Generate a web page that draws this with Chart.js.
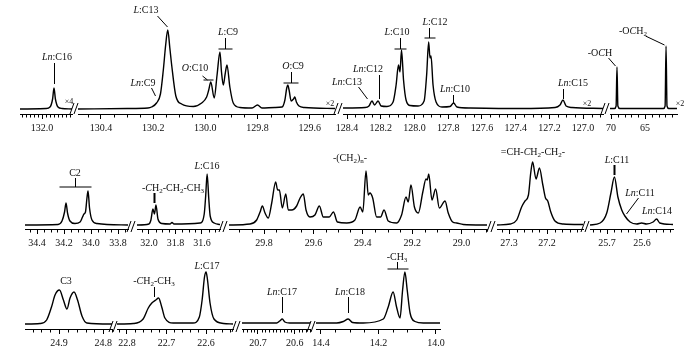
<!DOCTYPE html>
<html><head><meta charset="utf-8">
<script src="https://cdn.jsdelivr.net/npm/chart.js@4"></script>
<style>
html,body{margin:0;padding:0;background:#fff;}
#wrap{position:relative;width:700px;height:355px;overflow:hidden;background:#fff;}
#wrap canvas{position:absolute;}
.lb{position:absolute;transform:translate(-50%,-50%);font-family:"Liberation Serif","Times New Roman",serif;font-size:10px;color:#111;white-space:nowrap;line-height:1;z-index:6;}
.lb sub{font-size:7px;vertical-align:-2px;line-height:0;}
.sm{font-size:8px;}
#ov{position:absolute;left:0;top:0;z-index:5;}
</style></head><body><div id="wrap"><svg id="ov" width="700" height="355"></svg></div>
<script>
// ---------- DATA (chemical shift in ppm, relative intensity) ----------
// Row 1
const A_ppm = [132.11, 131.98, 131.96, 131.947, 131.94, 131.933, 131.92, 131.9, 131.85];
const A_int = [1, 1.5, 3, 11, 22, 11, 3, 1.5, 1];
const A_ticks = ['132.0'];

const B_ppm = [130.488, 130.3, 130.22, 130.206, 130.187, 130.172, 130.161, 130.152, 130.144, 130.136, 130.129, 130.113, 130.091, 130.046, 130.014, 129.995, 129.987, 129.979, 129.966, 129.955, 129.944, 129.938, 129.931, 129.924, 129.917, 129.906, 129.893, 129.867, 129.821, 129.8, 129.783, 129.733, 129.706, 129.695, 129.688, 129.684, 129.679, 129.671, 129.662, 129.657, 129.651, 129.641, 129.62, 129.503];
const B_int = [1, 1.5, 2, 3, 7, 16, 40, 65, 80, 62, 45, 14, 6, 3.5, 7, 13, 20, 28, 12, 35, 58, 38, 25, 36, 45, 23, 7, 2.5, 2, 5, 2, 2.5, 3, 10, 22, 25, 20, 9, 11, 13, 8, 4, 2.5, 1.5];
const B_ticks = ['130.4', '130.2', '130.0', '129.8', '129.6'];

const C_ppm = [128.424, 128.293, 128.27, 128.252, 128.237, 128.216, 128.198, 128.163, 128.127, 128.109, 128.095, 128.086, 128.077, 128.065, 128.05, 128.026, 127.979, 127.943, 127.928, 127.916, 127.908, 127.902, 127.89, 127.872, 127.837, 127.789, 127.768, 127.748, 127.67, 127.374, 127.166, 127.137, 127.119, 127.101, 127.066, 126.882];
const C_int = [2, 2.5, 4, 9, 5, 9, 4, 3.5, 8, 25, 45, 38, 60, 30, 10, 4.5, 4, 9, 35, 68, 52, 54, 25, 8, 3, 3.5, 7, 3, 2, 1.5, 2.5, 5, 10, 4, 2.5, 1.5];
const C_ticks = ['128.4', '128.2', '128.0', '127.8', '127.6', '127.4', '127.2', '127.0'];

const D_ppm = [70.147, 69.5, 69.25, 69.12, 68.99, 68.7, 62.3, 62.05, 61.91, 61.77, 61.5, 60.3];
const D_int = [1.5, 1.5, 4, 43, 4, 1.5, 1.5, 4, 64, 4, 1.5, 1.5];
const D_ticks = ['70', '65'];

// Row 2
const E_ppm = [34.489, 34.244, 34.215, 34.196, 34.185, 34.174, 34.156, 34.119, 34.081, 34.063, 34.052, 34.041, 34.03, 34.022, 34.011, 33.993, 33.956, 33.726];
const E_int = [1, 1.5, 5, 14, 23, 13, 5, 2.5, 4, 9, 12, 14, 28, 35, 18, 6, 2.5, 1];
const E_ticks = ['34.4', '34.2', '34.0', '33.8'];

const F_ppm = [32.09, 32.0, 31.985, 31.97, 31.958, 31.947, 31.932, 31.902, 31.841, 31.826, 31.811, 31.614, 31.583, 31.572, 31.561, 31.549, 31.538, 31.508, 31.464];
const F_int = [1, 2, 6, 17, 12, 21, 7, 2.5, 2, 3.5, 2, 3, 12, 30, 52, 28, 10, 3, 1.5];
const F_ticks = ['32.0', '31.8', '31.6'];

const G_ppm = [29.942, 29.857, 29.830, 29.816, 29.807, 29.796, 29.783, 29.769, 29.753, 29.745, 29.738, 29.726, 29.712, 29.702, 29.688, 29.668, 29.654, 29.641, 29.630, 29.614, 29.594, 29.576, 29.560, 29.536, 29.519, 29.503, 29.465, 29.432, 29.411, 29.400, 29.387, 29.378, 29.371, 29.360, 29.344, 29.328, 29.314, 29.297, 29.263, 29.243, 29.225, 29.216, 29.205, 29.191, 29.175, 29.157, 29.144, 29.139, 29.133, 29.120, 29.105, 29.090, 29.067, 29.054, 29.036, 29.020, 28.993, 28.897];
const G_int = [1, 2, 6, 14, 20, 13, 8, 23, 44, 36, 36, 18, 32, 16, 16, 20, 28, 32, 16, 9, 11, 20, 9, 9, 14, 4, 3, 6, 19, 14, 55, 31, 33, 28, 9, 9, 16, 5, 3, 11, 29, 24, 41, 19, 13, 34, 47, 46, 52, 26, 37, 18, 25, 13, 4, 3, 1.5, 1];
const G_ticks = ['29.8', '29.6', '29.4', '29.2', '29.0'];

const H_ppm = [27.332, 27.297, 27.280, 27.267, 27.258, 27.249, 27.243, 27.238, 27.229, 27.220, 27.211, 27.204, 27.198, 27.190, 27.179, 27.157, 27.105];
const H_int = [1, 2, 6, 19, 25, 31, 53, 64, 47, 58, 41, 28, 25, 14, 5, 2, 1.5];
const H_ticks = ['27.3', '27.2'];

const I_ppm = [25.749, 25.720, 25.701, 25.689, 25.679, 25.669, 25.658, 25.649, 25.634, 25.615, 25.601, 25.587, 25.568, 25.558, 25.549, 25.511];
const I_int = [1, 3, 13, 33, 49, 29, 16, 10, 4, 2, 3, 2, 4, 7, 3, 1.5];
const I_ticks = ['25.7', '25.6'];

// Row 3
const J_ppm = [24.977, 24.943, 24.928, 24.917, 24.909, 24.899, 24.890, 24.882, 24.875, 24.866, 24.858, 24.848, 24.837, 24.78];
const J_int = [1, 1.5, 5, 18, 30, 35, 25, 16, 27, 33, 25, 9, 2, 1];
const J_ticks = ['24.9', '24.8'];

const K_ppm = [22.825, 22.784, 22.759, 22.746, 22.737, 22.727, 22.720, 22.712, 22.704, 22.683, 22.633, 22.617, 22.610, 22.604, 22.600, 22.597, 22.590, 22.580, 22.556, 22.532];
const K_int = [1, 1.5, 6, 17, 22, 25, 27, 18, 7, 2, 2, 8, 25, 48, 53, 47, 22, 6, 1.5, 1];
const K_ticks = ['22.8', '22.7', '22.6'];

const L_ppm = [20.743, 20.649, 20.641, 20.634, 20.627, 20.614, 20.559];
const L_int = [2, 2, 4, 6, 3, 2, 2];
const L_ticks = ['20.7', '20.6'];

const M_ppm = [14.417, 14.345, 14.322, 14.305, 14.290, 14.253, 14.183, 14.166, 14.149, 14.137, 14.125, 14.116, 14.108, 14.100, 14.090, 14.073, 14.044, 13.986];
const M_int = [2, 2, 3.5, 6, 2.5, 2, 6, 18, 33, 18, 7, 35, 53, 35, 12, 3.5, 2, 2];
const M_ticks = ['14.4', '14.2', '14.0'];

// ---------- LAYOUT ----------
const ROWS = [
  {top: 10,  axis: 114, ymin: -4, ymax: 100},
  {top: 129, axis: 229, ymin: -3, ymax: 97},
  {top: 245, axis: 329, ymin: -4, ymax: 80}
];
const AXIS_H = 24;
const SEGS = [
  {row:0, x0:20,  x1:72,  min:131.85,  max:132.11,  ppm:A_ppm, val:A_int, ticks:A_ticks, minor:0.02},
  {row:0, x0:78,  x1:335, min:129.503, max:130.488, ppm:B_ppm, val:B_int, ticks:B_ticks, minor:0.05},
  {row:0, x0:343, x1:603, min:126.882, max:128.424, ppm:C_ppm, val:C_int, ticks:C_ticks, minor:0.05},
  {row:0, x0:610, x1:677, min:60.3,    max:70.147,  ppm:D_ppm, val:D_int, ticks:D_ticks, minor:1},
  {row:1, x0:25,  x1:128, min:33.726,  max:34.489,  ppm:E_ppm, val:E_int, ticks:E_ticks, minor:0.05},
  {row:1, x0:137, x1:220, min:31.464,  max:32.09,   ppm:F_ppm, val:F_int, ticks:F_ticks, minor:0.05},
  {row:1, x0:229, x1:487, min:28.897,  max:29.942,  ppm:G_ppm, val:G_int, ticks:G_ticks, minor:0.05},
  {row:1, x0:497, x1:583, min:27.105,  max:27.332,  ppm:H_ppm, val:H_int, ticks:H_ticks, minor:0.02},
  {row:1, x0:590, x1:673, min:25.511,  max:25.749,  ppm:I_ppm, val:I_int, ticks:I_ticks, minor:0.02},
  {row:2, x0:25,  x1:112, min:24.78,   max:24.977,  ppm:J_ppm, val:J_int, ticks:J_ticks, minor:0.02},
  {row:2, x0:117, x1:233, min:22.532,  max:22.825,  ppm:K_ppm, val:K_int, ticks:K_ticks, minor:0.02},
  {row:2, x0:242, x1:310, min:20.559,  max:20.743,  ppm:L_ppm, val:L_int, ticks:L_ticks, minor:0.01},
  {row:2, x0:316, x1:440, min:13.986,  max:14.417,  ppm:M_ppm, val:M_int, ticks:M_ticks, minor:0.05}
];

const wrap = document.getElementById('wrap');
const FONT = '"Liberation Serif", "Times New Roman", serif';

function makeSeg(s){
  const row = ROWS[s.row];
  const P = 18;
  const w = (s.x1 - s.x0) + 2*P;
  const h = (row.axis - row.top) + AXIS_H;
  const c = document.createElement('canvas');
  c.width = w; c.height = h;
  c.style.left = (s.x0 - P) + 'px';
  c.style.top = row.top + 'px';
  c.style.width = w + 'px'; c.style.height = h + 'px';
  wrap.appendChild(c);
  const majors = s.ticks.map(parseFloat);
  const minorPlugin = {
    id: 'minorTicks',
    afterDraw(chart){
      const sc = chart.scales.x, ctx = chart.ctx;
      const y0 = Math.round(sc.top) + 0.5;
      ctx.save();
      ctx.strokeStyle = '#000'; ctx.lineWidth = 1;
      const n0 = Math.ceil(s.min / s.minor - 1e-6), n1 = Math.floor(s.max / s.minor + 1e-6);
      for (let n = n0; n <= n1; n++){
        const v = n * s.minor;
        if (majors.some(m => Math.abs(m - v) < s.minor / 10)) continue;
        const px = Math.round(sc.getPixelForValue(v)) + 0.5;
        ctx.beginPath(); ctx.moveTo(px, y0); ctx.lineTo(px, y0 + 3); ctx.stroke();
      }
      ctx.restore();
    }
  };
  new Chart(c, {
    type: 'line',
    data: {datasets: [{
      data: s.ppm.map((p, i) => ({x: p, y: s.val[i]})),
      borderColor: '#000', borderWidth: 1.4, pointRadius: 0,
      cubicInterpolationMode: 'monotone', fill: false
    }]},
    options: {
      responsive: false, animation: false, devicePixelRatio: 1,
      layout: {padding: {left: P, right: P, top: 0, bottom: 0}},
      plugins: {legend: {display: false}, tooltip: {enabled: false}},
      scales: {
        x: {
          type: 'linear', reverse: true, min: s.min, max: s.max,
          afterBuildTicks: sc => { sc.ticks = majors.map(v => ({value: v})); },
          afterFit: sc => { sc.height = AXIS_H; },
          ticks: {autoSkip: false, maxRotation: 0, padding: 3, color: '#111',
                  font: {family: FONT, size: 10},
                  callback: (v, i) => s.ticks[i]},
          grid: {display: true, drawOnChartArea: false, drawTicks: true, tickLength: 5, color: '#000', lineWidth: 1},
          border: {display: true, color: '#000', width: 1}
        },
        y: {display: false, min: row.ymin, max: row.ymax}
      }
    },
    plugins: [minorPlugin]
  });
}
SEGS.forEach(makeSeg);

// ---------- ANNOTATIONS ----------
const LABELS = [
  ['<i>Ln</i>:C16', 57, 57], ['<i>Ln</i>:C9', 143, 83], ['<i>L</i>:C13', 146, 10],
  ['<i>O</i>:C10', 195, 68], ['<i>L</i>:C9', 228, 32], ['<i>O</i>:C9', 293, 66],
  ['<i>Ln</i>:C13', 347, 82], ['<i>Ln</i>:C12', 368, 69], ['<i>L</i>:C10', 397, 32],
  ['<i>L</i>:C12', 435, 22], ['<i>Ln</i>:C10', 455, 89], ['<i>Ln</i>:C15', 573, 83],
  ['-O<i>C</i>H', 600, 53], ['-O<i>C</i>H<sub>2</sub>', 633, 31],
  ['C2', 75, 173], ['-<i>C</i>H<sub>2</sub>-CH<sub>2</sub>-CH<sub>3</sub>', 173, 188],
  ['<i>L</i>:C16', 207, 166], ['-(CH<sub>2</sub>)<sub>n</sub>-', 350, 158],
  ['=CH-<i>C</i>H<sub>2</sub>-CH<sub>2</sub>-', 533, 152], ['<i>L</i>:C11', 617, 160],
  ['<i>Ln</i>:C11', 640, 193], ['<i>Ln</i>:C14', 657, 211],
  ['C3', 66, 281], ['-<i>C</i>H<sub>2</sub>-CH<sub>3</sub>', 154, 281], ['<i>L</i>:C17', 207, 266],
  ['<i>Ln</i>:C17', 282, 292], ['<i>Ln</i>:C18', 350, 292], ['-CH<sub>3</sub>', 397, 257]
];
const SMALL = [['×4', 69, 102], ['×2', 330, 104], ['×2', 587, 104], ['×2', 680, 104]];
const LINES = [
  [54,63,54,84,1], [151,88,155,96,1], [157,16,167,27,1],
  [202,76,207,80,1], [203,80,213,80,1],
  [225,38,225,49,1], [218,49,232,49,1],
  [291,72,291,83,1], [283,83,298,83,1],
  [358,87,367,99,1], [379,75,379,99,1],
  [400,38,400,49,1], [394,49,406,49,1],
  [429,28,429,38,1], [424,38,435,38,1],
  [453,95,453,103,1], [563,89,563,99,1],
  [608,58,615,66,1], [645,36,664,45,1],
  [75,178,75,187,1], [59,187,91,187,1],
  [154,193,154,203,2], [614,165,614,175,2], [638,198,626,214,1],
  [154,287,154,297,1], [282,297,282,313,1], [348,297,348,313,1],
  [397,262,397,269,1], [387,269,408,269,1]
];
const BREAKS = [[75,108],[339,108],[606,108],[132,226],[224,226],[492,226],[586,226],[114,326],[237,326],[312,326]];

const ov = document.getElementById('ov');
const NS = 'http://www.w3.org/2000/svg';
function ln(x1,y1,x2,y2,w){
  const l = document.createElementNS(NS,'line');
  l.setAttribute('x1',x1); l.setAttribute('y1',y1); l.setAttribute('x2',x2); l.setAttribute('y2',y2);
  l.setAttribute('stroke','#000'); l.setAttribute('stroke-width',w);
  ov.appendChild(l);
}
LINES.forEach(a => ln(a[0]+0.5,a[1],a[2]+0.5,a[3],a[4]));
BREAKS.forEach(b => { ln(b[0]-5,b[1]+6,b[0]-1,b[1]-5,1); ln(b[0]-1,b[1]+6,b[0]+3,b[1]-5,1); });
LABELS.forEach(a => {
  const d = document.createElement('div'); d.className = 'lb'; d.innerHTML = a[0];
  d.style.left = a[1] + 'px'; d.style.top = a[2] + 'px'; wrap.appendChild(d);
});
SMALL.forEach(a => {
  const d = document.createElement('div'); d.className = 'lb sm'; d.textContent = a[0];
  d.style.left = a[1] + 'px'; d.style.top = a[2] + 'px'; wrap.appendChild(d);
});
</script></body></html>
